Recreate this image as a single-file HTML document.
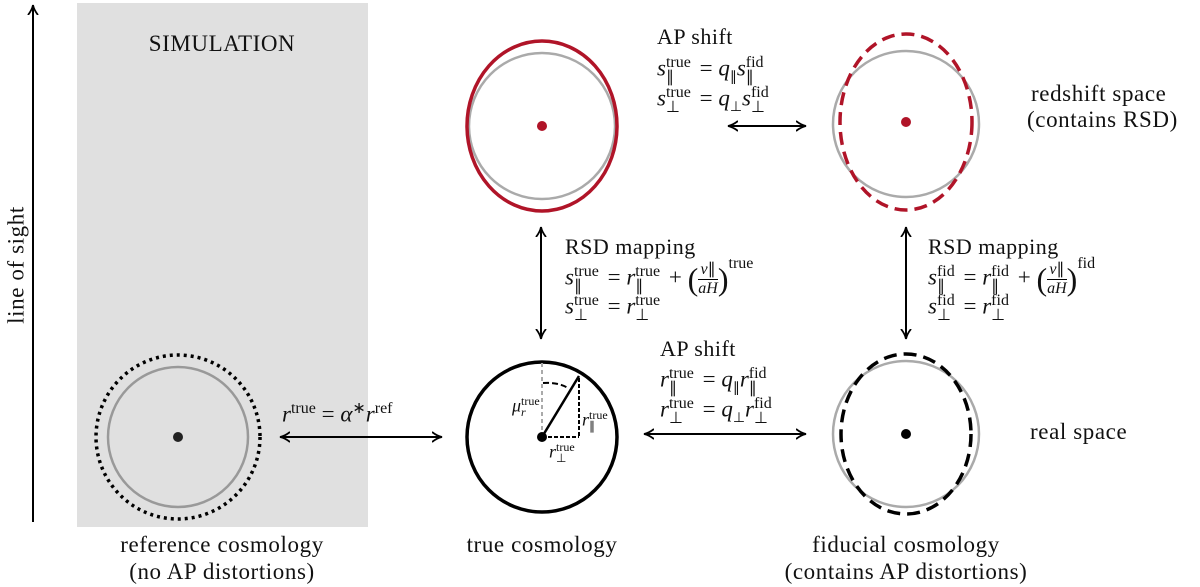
<!DOCTYPE html>
<html><head><meta charset="utf-8"><style>
body{margin:0;width:1200px;height:587px;background:#fff;position:relative;overflow:hidden;font-family:"Liberation Serif",serif;color:#111}
.t{position:absolute;font-size:23px;letter-spacing:0.6px;white-space:nowrap;line-height:1}
.h{font-size:22px;letter-spacing:0.5px}
.m{position:absolute;font-size:23px;white-space:nowrap;line-height:1}
.ss{display:inline-block;vertical-align:middle;line-height:0.95;font-size:16px;text-align:left;font-style:normal;margin-right:3px}
.ss span{display:block}
i{font-style:italic}
.c{text-align:center;transform:translateX(-50%)}
</style></head><body>
<svg width="1200" height="587" style="position:absolute;left:0;top:0">
<defs><marker id="a" markerWidth="12" markerHeight="12" refX="9" refY="6" orient="auto-start-reverse" markerUnits="userSpaceOnUse"><path d="M0,1 Q5,5 10,6 Q5,7 0,11" fill="none" stroke="#000" stroke-width="1.8"/></marker></defs>
<rect x="77" y="3" width="291" height="524" fill="#e0e0e0"/>
<line x1="33" y1="522" x2="33" y2="6" stroke="#000" stroke-width="2" marker-end="url(#a)"/>
<circle cx="178" cy="437" r="70" fill="none" stroke="#999" stroke-width="2.5"/>
<circle cx="178" cy="437" r="82" fill="none" stroke="#000" stroke-width="3.5" stroke-dasharray="3,4"/>
<circle cx="178" cy="437" r="5" fill="#222"/>
<circle cx="542" cy="126" r="73" fill="none" stroke="#aaa" stroke-width="2.5"/>
<ellipse cx="542" cy="126" rx="75" ry="85" fill="none" stroke="#b01428" stroke-width="3.5"/>
<circle cx="542" cy="126" r="5" fill="#b01428"/>
<circle cx="906" cy="124" r="73" fill="none" stroke="#aaa" stroke-width="2.5"/>
<ellipse cx="906" cy="122" rx="66" ry="88" fill="none" stroke="#b01428" stroke-width="3.5" stroke-dasharray="13,7"/>
<circle cx="906" cy="122" r="5" fill="#b01428"/>
<circle cx="542" cy="437" r="75" fill="none" stroke="#000" stroke-width="3.5"/>
<line x1="542" y1="437" x2="542" y2="362" stroke="#aaa" stroke-width="2" stroke-dasharray="4,3"/>
<line x1="542" y1="437" x2="579" y2="376" stroke="#000" stroke-width="2.5"/>
<line x1="579" y1="378" x2="579" y2="437" stroke="#000" stroke-width="2" stroke-dasharray="4,2"/>
<line x1="542" y1="437" x2="579" y2="437" stroke="#000" stroke-width="2" stroke-dasharray="4,2"/>
<path d="M543,383 Q558,382 568,388" fill="none" stroke="#000" stroke-width="2" stroke-dasharray="6,3"/>
<circle cx="542" cy="437" r="5" fill="#000"/>
<circle cx="906" cy="434" r="73" fill="none" stroke="#aaa" stroke-width="2.5"/>
<ellipse cx="906" cy="434" rx="65" ry="80" fill="none" stroke="#000" stroke-width="3.5" stroke-dasharray="13,7"/>
<circle cx="906" cy="434" r="5" fill="#000"/>
<line x1="729" y1="126" x2="805" y2="126" stroke="#000" stroke-width="2" marker-start="url(#a)" marker-end="url(#a)"/>
<line x1="645" y1="434" x2="805" y2="434" stroke="#000" stroke-width="2" marker-start="url(#a)" marker-end="url(#a)"/>
<line x1="281" y1="437" x2="441" y2="437" stroke="#000" stroke-width="2" marker-start="url(#a)" marker-end="url(#a)"/>
<line x1="541" y1="228" x2="541" y2="338" stroke="#000" stroke-width="2" marker-start="url(#a)" marker-end="url(#a)"/>
<line x1="906" y1="228" x2="906" y2="338" stroke="#000" stroke-width="2" marker-start="url(#a)" marker-end="url(#a)"/>
</svg>
<div class="t" style="left:16px;top:265px;transform:translate(-50%,-50%) rotate(-90deg)">line of sight</div>
<div class="t c" style="left:222px;top:32px">SIMULATION</div>

<div class="t h" style="left:657px;top:26px">AP shift</div>
<div class="m" style="left:657px;top:55px"><i>s</i><span class="ss"><span>true</span><span>∥</span></span> = <i>q</i><sub style="font-size:14px">∥</sub><i>s</i><span class="ss"><span>fid</span><span>∥</span></span></div>
<div class="m" style="left:657px;top:85px"><i>s</i><span class="ss"><span>true</span><span>⊥</span></span> = <i>q</i><sub style="font-size:14px">⊥</sub><i>s</i><span class="ss"><span>fid</span><span>⊥</span></span></div>

<div class="t" style="left:1031px;top:82px">redshift space</div>
<div class="t" style="left:1027px;top:108px">(contains RSD)</div>
<div class="t" style="left:1030px;top:420px">real space</div>

<div class="t h" style="left:565px;top:236px">RSD mapping</div>
<div class="m" style="left:565px;top:261px"><i>s</i><span class="ss"><span>true</span><span>∥</span></span> = <i>r</i><span class="ss"><span>true</span><span>∥</span></span> + <span style="font-size:32px;vertical-align:middle">(</span><span style="display:inline-block;vertical-align:middle;text-align:center;font-size:16px;line-height:1.1"><span style="display:block;border-bottom:1px solid #000"><i>v</i>∥</span><i>aH</i></span><span style="font-size:32px;vertical-align:middle">)</span><sup style="font-size:16px;position:relative;top:-8px">true</sup></div>
<div class="m" style="left:565px;top:293px"><i>s</i><span class="ss"><span>true</span><span>⊥</span></span> = <i>r</i><span class="ss"><span>true</span><span>⊥</span></span></div>

<div class="t h" style="left:928px;top:236px">RSD mapping</div>
<div class="m" style="left:928px;top:261px"><i>s</i><span class="ss"><span>fid</span><span>∥</span></span> = <i>r</i><span class="ss"><span>fid</span><span>∥</span></span> + <span style="font-size:32px;vertical-align:middle">(</span><span style="display:inline-block;vertical-align:middle;text-align:center;font-size:16px;line-height:1.1"><span style="display:block;border-bottom:1px solid #000"><i>v</i>∥</span><i>aH</i></span><span style="font-size:32px;vertical-align:middle">)</span><sup style="font-size:16px;position:relative;top:-8px">fid</sup></div>
<div class="m" style="left:928px;top:293px"><i>s</i><span class="ss"><span>fid</span><span>⊥</span></span> = <i>r</i><span class="ss"><span>fid</span><span>⊥</span></span></div>

<div class="t h" style="left:660px;top:338px">AP shift</div>
<div class="m" style="left:660px;top:366px"><i>r</i><span class="ss"><span>true</span><span>∥</span></span> = <i>q</i><sub style="font-size:14px">∥</sub><i>r</i><span class="ss"><span>fid</span><span>∥</span></span></div>
<div class="m" style="left:660px;top:396px"><i>r</i><span class="ss"><span>true</span><span>⊥</span></span> = <i>q</i><sub style="font-size:14px">⊥</sub><i>r</i><span class="ss"><span>fid</span><span>⊥</span></span></div>

<div class="m" style="left:282px;top:401px"><i>r</i><sup style="font-size:16px">true</sup> = <i>α</i><sup style="font-size:16px">∗</sup><i>r</i><sup style="font-size:16px">ref</sup></div>

<div class="m" style="left:512px;top:396px;font-size:18px"><i>μ</i><span class="ss" style="font-size:12px"><span>true</span><span><i>r</i></span></span></div>
<div class="m" style="left:582px;top:410px;font-size:18px"><i>r</i><span class="ss" style="font-size:12px"><span>true</span><span>∥</span></span></div>
<div class="m" style="left:549px;top:442px;font-size:18px"><i>r</i><span class="ss" style="font-size:12px"><span>true</span><span>⊥</span></span></div>

<div class="t c" style="left:222px;top:533px">reference cosmology</div>
<div class="t c" style="left:222px;top:560px">(no AP distortions)</div>
<div class="t c" style="left:542px;top:533px">true cosmology</div>
<div class="t c" style="left:906px;top:533px">fiducial cosmology</div>
<div class="t c" style="left:906px;top:560px">(contains AP distortions)</div>
</body></html>
